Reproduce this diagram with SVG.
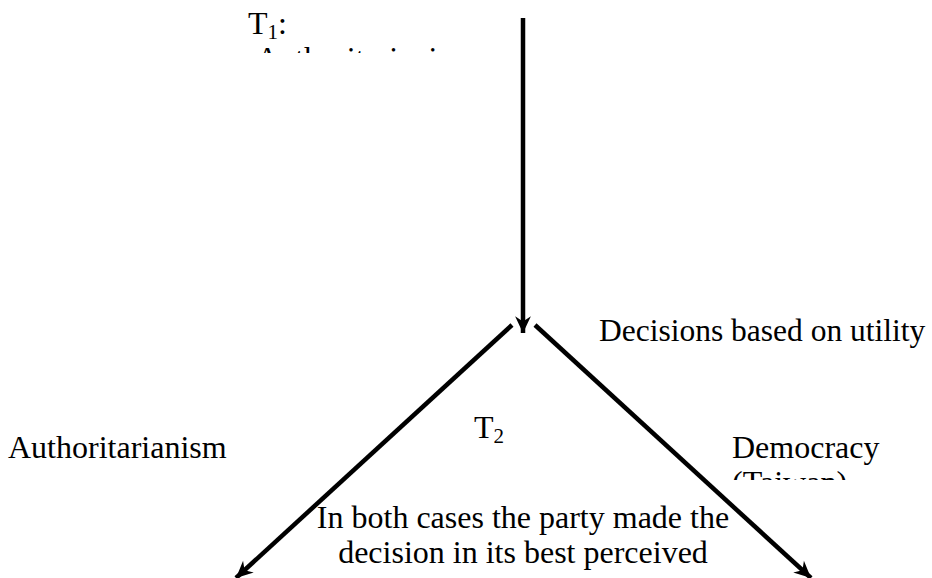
<svg xmlns="http://www.w3.org/2000/svg" width="932" height="578" viewBox="0 0 932 578">
<style>
text{font-family:"Liberation Serif","Times New Roman",serif;font-size:32px;fill:#000}
.sub{font-size:21px}
.mid{font-size:31.5px}
.conn{stroke:#000;stroke-width:4.5;fill:none;marker-end:url(#ah)}
</style>
<defs>
<marker id="ah" markerUnits="userSpaceOnUse" markerWidth="20" markerHeight="20" viewBox="-17 -9 19 18" refX="0" refY="0" orient="auto">
<path d="M0,0 L-16,-7.5 L-11,0 L-16,7.5 Z" fill="#000"/>
</marker>
<clipPath id="c1"><rect x="200" y="0" width="300" height="53"/></clipPath>
<clipPath id="c2"><rect x="690" y="400" width="242" height="80"/></clipPath>
</defs>
<rect width="932" height="578" fill="#fff"/>
<g id="connectors">
<line class="conn" x1="523" y1="18" x2="523" y2="333"/>
<line class="conn" x1="512" y1="325" x2="236" y2="578"/>
<line class="conn" x1="535" y1="325" x2="811" y2="578"/>
</g>
<g id="t1" clip-path="url(#c1)">
<text x="248" y="34">T<tspan class="sub" dy="5">1</tspan><tspan dy="-5">:</tspan></text>
<text x="256" y="69">Authoritarianism</text>
</g>
<g id="decisions">
<text class="mid" x="599" y="341">Decisions based on utility</text>
</g>
<g id="t2">
<text x="474" y="438">T<tspan class="sub" dy="5">2</tspan></text>
</g>
<g id="authoritarianism">
<text x="8" y="458">Authoritarianism</text>
</g>
<g id="democracy" clip-path="url(#c2)">
<text x="732" y="458">Democracy</text>
<text x="732" y="493">(Taiwan)</text>
</g>
<g id="conclusion">
<text x="523" y="528" text-anchor="middle">In both cases the party made the</text>
<text x="523" y="563" text-anchor="middle">decision in its best perceived</text>
</g>
</svg>
